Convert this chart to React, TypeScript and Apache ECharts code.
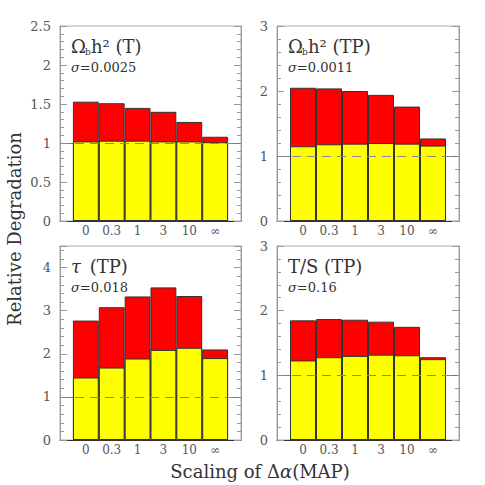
import React, { useEffect, useRef } from 'react';
import * as echarts from 'echarts';

const categories = ['0', '0.3', '1', '3', '10', '∞'];

const obT_total = [1.53, 1.51, 1.45, 1.40, 1.27, 1.08];
const obT_base = [1.02, 1.03, 1.03, 1.02, 1.02, 1.01];
const obTP_total = [2.05, 2.04, 2.00, 1.94, 1.76, 1.27];
const obTP_base = [1.15, 1.18, 1.19, 1.20, 1.19, 1.16];
const tau_total = [2.77, 3.08, 3.33, 3.54, 3.34, 2.10];
const tau_base = [1.45, 1.68, 1.89, 2.09, 2.14, 1.90];
const ts_total = [1.85, 1.87, 1.86, 1.83, 1.75, 1.28];
const ts_base = [1.23, 1.28, 1.30, 1.32, 1.31, 1.25];

const yMaxes = [2.5, 3, 4.5, 3];
const yIntervals = [0.5, 1, 1, 1];
const sigmas = ['0.0025', '0.0011', '0.018', '0.16'];

const FONT = 'DejaVu Serif';

const panels = [
  { left: 60, top: 26, width: 181, height: 195, total: obT_total, base: obT_base },
  { left: 277, top: 26, width: 182, height: 195, total: obTP_total, base: obTP_base },
  { left: 60, top: 246, width: 181, height: 194, total: tau_total, base: tau_base },
  { left: 277, top: 246, width: 182, height: 194, total: ts_total, base: ts_base },
];

function titleGraphic(kind: number, x: number, y: number): any[] {
  const big = { fontFamily: FONT, fontSize: 18, fill: '#333' };
  if (kind === 0 || kind === 1) {
    const rest = kind === 0 ? 'h² (T)' : 'h² (TP)';
    return [
      { type: 'text', x, y, style: { ...big, text: 'Ω', verticalAlign: 'middle' } },
      { type: 'text', x: x + 14, y: y + 6, style: { fontFamily: FONT, fontSize: 9, fill: '#333', text: 'b', verticalAlign: 'middle' } },
      { type: 'text', x: x + 20, y, style: { ...big, text: rest, verticalAlign: 'middle' } },
    ];
  }
  if (kind === 2) {
    return [
      { type: 'text', x, y, style: { ...big, text: 'τ', fontStyle: 'italic', verticalAlign: 'middle' } },
      { type: 'text', x: x + 13, y, style: { ...big, text: ' (TP)', verticalAlign: 'middle' } },
    ];
  }
  return [{ type: 'text', x, y, style: { ...big, text: 'T/S (TP)', verticalAlign: 'middle' } }];
}

export default function App() {
  const ref = useRef<HTMLDivElement>(null);
  useEffect(() => {
    if (!ref.current) return;
    const chart = echarts.init(ref.current, null, { renderer: 'svg' });

    const grid: any[] = [];
    const xAxis: any[] = [];
    const yAxis: any[] = [];
    const series: any[] = [];
    const graphic: any[] = [];

    panels.forEach((p, k) => {
      grid.push({
        left: p.left, top: p.top, width: p.width, height: p.height,
        show: true, borderColor: '#aaa', borderWidth: 1, backgroundColor: 'transparent',
      });
      xAxis.push({
        type: 'value', gridIndex: k, min: -1, max: 6, interval: 1,
        axisLine: { show: true, onZero: false, lineStyle: { color: '#333', width: 1 } },
        axisTick: { show: false },
        splitLine: { show: false },
        axisLabel: {
          margin: 4, fontFamily: FONT, fontSize: 12, color: '#555',
          formatter: (v: number) => categories[Math.round(v)] ?? '',
        },
      });
      const intv = yIntervals[k];
      const common = {
        type: 'value', gridIndex: k, min: 0, max: yMaxes[k], interval: intv,
        splitLine: { show: false },
        axisLine: { show: true, onZero: false, lineStyle: { color: '#999' } },
        axisTick: { show: true, inside: true, length: 7, lineStyle: { color: '#999' } },
        minorTick: { show: true, splitNumber: 5, length: 4, lineStyle: { color: '#999' } },
      };
      yAxis.push({
        ...common, position: 'left',
        axisLabel: {
          margin: 9, fontFamily: FONT, fontSize: 13, color: '#555',
          formatter: (v: number) => {
            const r = v / intv;
            return Math.abs(r - Math.round(r)) < 1e-6 ? String(v) : '';
          },
        },
      });
      yAxis.push({ ...common, position: 'right', axisLabel: { show: false } });

      const bw = p.width / 7;
      series.push({
        type: 'bar', xAxisIndex: k, yAxisIndex: 2 * k,
        barWidth: bw, barGap: '-100%',
        data: p.total.map((v, i) => [i, v]),
        itemStyle: { color: '#ff0000', borderColor: '#333', borderWidth: 1 },
        markLine: {
          silent: true, symbol: 'none', z: 1, label: { show: false },
          lineStyle: { color: '#777', type: 'solid', width: 1 },
          data: [{ yAxis: 1 }],
        },
      });
      series.push({
        type: 'bar', xAxisIndex: k, yAxisIndex: 2 * k,
        barWidth: bw, barGap: '-100%',
        data: p.base.map((v, i) => [i, v]),
        itemStyle: { color: '#ffff00', borderColor: '#333', borderWidth: 1 },
        markLine: {
          silent: true, symbol: 'none', z: 5, label: { show: false },
          lineStyle: { color: '#888', type: [9, 6], width: 1 },
          data: [{ yAxis: 1 }],
        },
      });

      const tx = p.left + 11;
      graphic.push(...titleGraphic(k, tx, p.top + 20));
      graphic.push({
        type: 'text', x: tx, y: p.top + 41,
        style: {
          text: '{i|σ}=' + sigmas[k],
          fontFamily: FONT, fontSize: 13, fill: '#333', verticalAlign: 'middle',
          rich: { i: { fontFamily: FONT, fontSize: 13, fontStyle: 'italic', fill: '#333' } },
        },
      });
    });

    graphic.push({
      type: 'text', x: 14, y: 229, rotation: Math.PI / 2,
      style: { text: 'Relative Degradation', fontFamily: FONT, fontSize: 18, fill: '#333', align: 'center', verticalAlign: 'middle' },
    });
    graphic.push({
      type: 'text', x: 260, y: 471,
      style: {
        text: 'Scaling of Δ{i|α}(MAP)', fontFamily: FONT, fontSize: 18, fill: '#333', align: 'center', verticalAlign: 'middle',
        rich: { i: { fontFamily: FONT, fontSize: 18, fontStyle: 'italic', fill: '#333' } },
      },
    });

    chart.setOption({ animation: false, backgroundColor: '#fff', grid, xAxis, yAxis, series, graphic });
    return () => chart.dispose();
  }, []);
  return <div ref={ref} style={{ position: 'absolute', left: 0, top: 0, width: 485, height: 485 }} />;
}
